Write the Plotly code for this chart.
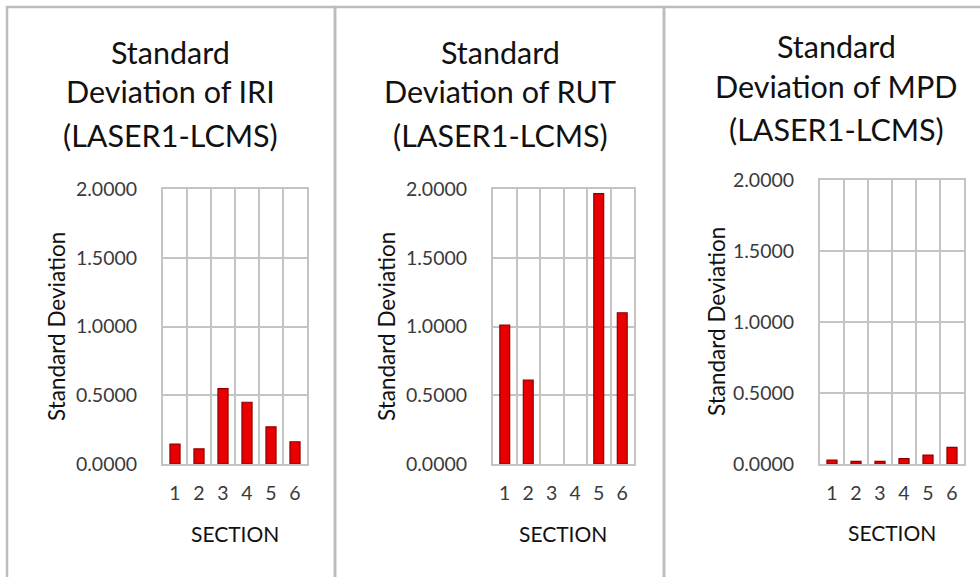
import plotly.graph_objects as go

# Sections and standard deviation values (LASER1 vs LCMS)
sections = [1, 2, 3, 4, 5, 6]
std_iri = [0.145, 0.110, 0.548, 0.449, 0.270, 0.162]
std_rut = [1.011, 0.611, 0.0, 0.0, 1.966, 1.100]
std_mpd = [0.028, 0.019, 0.019, 0.038, 0.063, 0.117]

title_lines = [
    ["Standard", "Deviation of IRI", "(LASER1-LCMS)"],
    ["Standard", "Deviation of RUT", "(LASER1-LCMS)"],
    ["Standard", "Deviation of MPD", "(LASER1-LCMS)"],
]
y_ticks = [0, 0.5, 1.0, 1.5, 2.0]
y_tick_text = ["0.0000", "0.5000", "1.0000", "1.5000", "2.0000"]

W, H = 980, 577
FONT = "Lato"
GRID = "#c4c4c4"
TICK_COLOR = "#3a3a3a"
TEXT_COLOR = "#111111"


def px_x(x):
    return x / W


def px_y(y):
    return 1 - y / H


# plot-area boxes in pixels: (left, right, top, bottom)
boxes = [(163, 307, 189, 464), (493, 634, 189, 464), (820, 964, 180, 464)]
series = [std_iri, std_rut, std_mpd]

fig = go.Figure()
layout = dict(
    width=W,
    height=H,
    margin=dict(l=0, r=0, t=0, b=0, autoexpand=False),
    paper_bgcolor="white",
    plot_bgcolor="white",
    showlegend=False,
    font=dict(family=FONT, color=TICK_COLOR),
    bargap=0.58,
)

for i, (vals, box) in enumerate(zip(series, boxes)):
    n = "" if i == 0 else str(i + 1)
    fig.add_trace(go.Bar(
        x=sections, y=vals,
        xaxis="x" + n, yaxis="y" + n,
        marker=dict(
            color="#e80000",
            line=dict(color="#8e0000", width=[1.2 if v > 0 else 0 for v in vals]),
        ),
        hoverinfo="x+y",
    ))
    l, r, t, b = box
    layout["xaxis" + n] = dict(
        domain=[px_x(l), px_x(r)],
        anchor="y" + n,
        range=[0.5, 6.5],
        automargin=False,
        tickmode="array", tickvals=sections, ticktext=[str(s) for s in sections],
        showgrid=False,
        showline=True, mirror=True, linecolor=GRID, linewidth=2,
        ticks="", ticklabelstandoff=11,
        tickfont=dict(size=19.5, color=TICK_COLOR, family=FONT),
        minor=dict(tickmode="array", tickvals=[k + 0.5 for k in range(7)],
                   showgrid=True, gridcolor=GRID, gridwidth=2, ticks=""),
        fixedrange=True,
    )
    layout["yaxis" + n] = dict(
        domain=[px_y(b), px_y(t)],
        anchor="x" + n,
        range=[0, 2.0],
        automargin=False,
        tickmode="array", tickvals=y_ticks, ticktext=y_tick_text,
        showgrid=True, gridcolor=GRID, gridwidth=2,
        zeroline=False,
        showline=True, mirror=True, linecolor=GRID, linewidth=2,
        ticks="", ticklabelstandoff=20,
        tickfont=dict(size=19.5, color=TICK_COLOR, family=FONT),
        fixedrange=True,
    )

fig.update_layout(**layout)

# chart titles, one annotation per line
title_centres = [
    (170.5, [52, 91, 135]),
    (500, [52, 91, 135]),
    (836, [46, 86, 129]),
]
for lines, (cx, ys) in zip(title_lines, title_centres):
    for text, cy in zip(lines, ys):
        fig.add_annotation(
            x=px_x(cx), y=px_y(cy), xref="paper", yref="paper",
            text=text, showarrow=False, xanchor="center", yanchor="middle",
            font=dict(family=FONT, size=30.5, color=TEXT_COLOR),
        )

# y-axis titles
for cx, cy in [(56, 327), (386, 327), (716, 322)]:
    fig.add_annotation(
        x=px_x(cx), y=px_y(cy), xref="paper", yref="paper",
        text="Standard Deviation", textangle=-90, showarrow=False,
        xanchor="center", yanchor="middle",
        font=dict(family=FONT, size=22.5, color=TEXT_COLOR),
    )

# x-axis titles
for cx, cy in [(235, 533), (563, 533), (892, 532)]:
    fig.add_annotation(
        x=px_x(cx), y=px_y(cy), xref="paper", yref="paper",
        text="SECTION", showarrow=False, xanchor="center", yanchor="middle",
        font=dict(family=FONT, size=21, color=TEXT_COLOR),
    )

# chart frames
frames = [(7, 335, 7, 600), (335, 664, 7, 600), (664, 1000, 7, 600)]
for l, r, t, b in frames:
    fig.add_shape(
        type="rect", xref="paper", yref="paper",
        x0=px_x(l), x1=px_x(r), y0=px_y(b), y1=px_y(t),
        line=dict(color="#bcbcbc", width=2.5), fillcolor="rgba(0,0,0,0)",
        layer="below",
    )

fig.write_html("out.html")
